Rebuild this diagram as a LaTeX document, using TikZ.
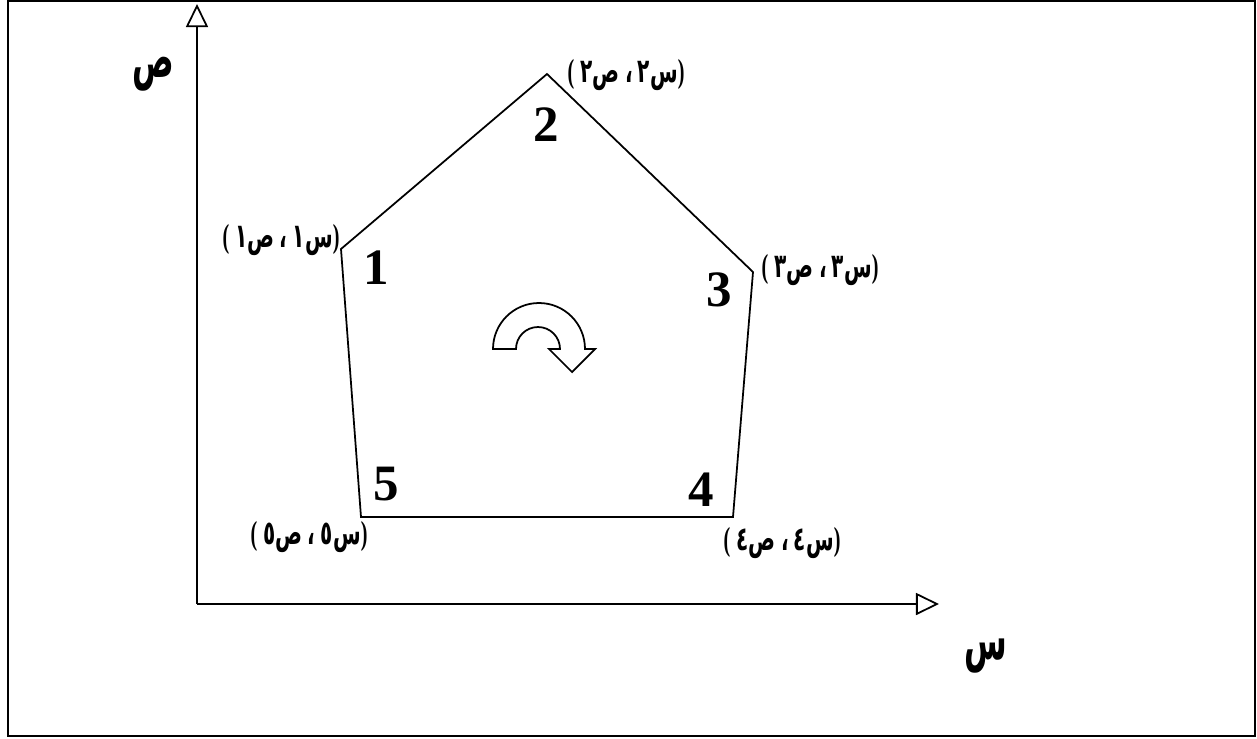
\documentclass[tikz,border=0pt]{standalone}
\usepackage{fontspec}
\setmainfont{Liberation Serif}
\newfontfamily\arabicfont[Script=Arabic]{DejaVu Sans}
\TeXXeTstate=1
\usetikzlibrary{arrows.meta}
\newcommand{\vertlbl}[1]{\scalebox{0.6}[1]{(\hspace{3pt}{\arabicfont\beginR س#1\hspace{2.5pt}،\hspace{2.5pt}ص#1\endR})}}
\newcommand{\axistext}[1]{\scalebox{0.55}[1]{#1}}

\begin{document}
\begin{tikzpicture}[
  x=0.01cm, y=0.01cm,
  num/.style={font=\fontsize{14.5}{16}\bfseries\selectfont, inner sep=0pt},
  lbl/.style={font=\fontsize{9.5}{11}\bfseries\selectfont, inner sep=0pt},
  axlbl/.style={font=\arabicfont\fontsize{16}{18}\bfseries\selectfont, inner sep=0pt},
  axis/.style={line width=0.5pt, -{Triangle[open, length=0.23cm, width=0.22cm]}},
  edge/.style={line width=0.5pt}
]
  \useasboundingbox (0,0) rectangle (1257,738);
  % Outer frame
  \draw[line width=0.7pt] (8,2) rectangle (1255,737);

  % Axes
  \coordinate (o) at (197,134);
  \coordinate (ytip) at (197,734);
  \coordinate (xtip) at (939,134);
  \draw[axis] (o) -- (ytip);
  \draw[axis] (o) -- (xtip);
  \node[axlbl] (ylbl) at (153,664) {\axistext{ص}};
  \node[axlbl] (xlbl) at (986,82) {\axistext{س}};

  % Pentagon vertices
  \foreach \n/\x/\y in {1/341/489, 2/547/664, 3/753/466, 4/733/221, 5/361/221}
    \coordinate (p\n) at (\x,\y);
  \draw[edge, line join=miter] (p1) -- (p2) -- (p3) -- (p4) -- (p5) -- cycle;

  % Vertex numbers
  \foreach \n/\x/\y in {1/376/470, 2/546/613, 3/719/448, 4/701/248, 5/386/254}
    \node[num] (n\n) at (\x,\y) {\n};

  % Coordinate labels beside the vertices
  \node[lbl] (c1) at (281,498) {\vertlbl{١}};
  \node[lbl] (c2) at (626,663) {\vertlbl{٢}};
  \node[lbl] (c3) at (820,468) {\vertlbl{٣}};
  \node[lbl] (c4) at (782,195) {\vertlbl{٤}};
  \node[lbl] (c5) at (309,201) {\vertlbl{٥}};

  % Sense of traversal (clockwise)
  \draw[edge] (493,389) arc[start angle=180, end angle=0, radius=46]
    -- (595,389) -- (572,366) -- (549,389) -- (560,389)
    arc[start angle=0, end angle=180, radius=22] -- cycle;
\end{tikzpicture}
\end{document}
